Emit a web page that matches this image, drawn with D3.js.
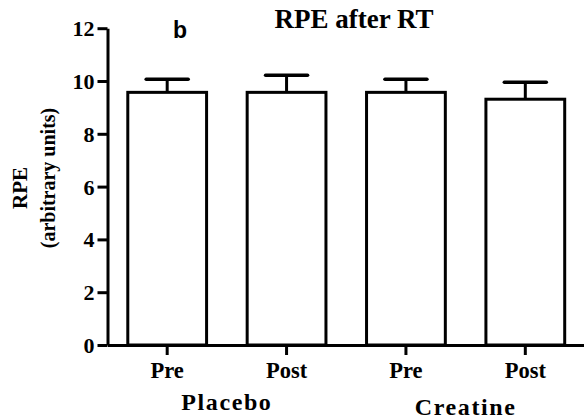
<!DOCTYPE html>
<html><head><meta charset="utf-8">
<script src="https://cdn.jsdelivr.net/npm/d3@7"></script>
<style>body{margin:0;background:#fff;} svg{display:block;}</style>
</head><body>
<svg id="chart" width="584" height="419"></svg>
<script>
const categories = ["Pre", "Post", "Pre", "Post"];
const groups = ["Placebo", "Creatine"];
const values = [9.57, 9.57, 9.57, 9.31];
const errors = [0.5, 0.65, 0.5, 0.64];
const yTicks = [0, 2, 4, 6, 8, 10, 12];

const svg = d3.select("#chart");
const serif = "'Liberation Serif','Times New Roman',serif";
const x = d3.scaleBand().domain(d3.range(categories.length)).range([107.5, 585]).paddingInner(0.34).paddingOuter(0.17);
const y = d3.scaleLinear().domain([0, 12]).range([345, 28.2]);

// bars
const g = svg.append("g");
g.selectAll("rect").data(values).join("rect")
  .attr("x", (d, i) => x(i)).attr("y", d => y(d))
  .attr("width", x.bandwidth()).attr("height", d => y(0) - y(d))
  .attr("fill", "#fff").attr("stroke", "#000").attr("stroke-width", 3);
// error bars
const capW = 42;
g.selectAll("line.err").data(values).join("line").attr("class", "err")
  .attr("x1", (d, i) => x(i) + x.bandwidth() / 2).attr("x2", (d, i) => x(i) + x.bandwidth() / 2)
  .attr("y1", d => y(d)).attr("y2", (d, i) => y(d + errors[i]))
  .attr("stroke", "#000").attr("stroke-width", 3);
g.selectAll("line.cap").data(values).join("line").attr("class", "cap")
  .attr("x1", (d, i) => x(i) + x.bandwidth() / 2 - capW / 2).attr("x2", (d, i) => x(i) + x.bandwidth() / 2 + capW / 2)
  .attr("y1", (d, i) => y(d + errors[i])).attr("y2", (d, i) => y(d + errors[i]))
  .attr("stroke", "#000").attr("stroke-width", 3.5).attr("stroke-linecap", "round");

// y axis
const ya = svg.append("g").attr("transform", "translate(107.5,0)")
  .call(d3.axisLeft(y).tickValues(yTicks).tickSize(10).tickSizeOuter(0).tickPadding(3));
ya.select(".domain").attr("stroke-width", 3);
ya.selectAll(".tick line").attr("stroke-width", 3);
ya.selectAll(".tick text").attr("font-family", serif).attr("font-weight", "bold")
  .attr("font-size", 22).attr("fill", "#000").attr("dy", "0.34em");

// x axis
const xa = svg.append("g").attr("transform", "translate(0,345)")
  .call(d3.axisBottom(x).tickSize(10).tickSizeOuter(0).tickFormat(i => categories[i]));
xa.select(".domain").attr("stroke-width", 3);
xa.selectAll(".tick line").attr("stroke-width", 3);
xa.selectAll(".tick text").attr("font-family", serif).attr("font-weight", "bold")
  .attr("font-size", 22.5).attr("fill", "#000").attr("y", 33).attr("dy", 0);

// group labels
groups.forEach((gname, k) => {
  const cx = (x(2 * k) + x(2 * k + 1) + x.bandwidth()) / 2;
  svg.append("text").attr("x", cx).attr("y", k === 0 ? 410 : 415)
    .attr("text-anchor", "middle").attr("font-family", serif).attr("font-weight", "bold")
    .attr("font-size", 24).attr("letter-spacing", "1.6px").text(gname);
});

// title
svg.append("text").attr("x", 354).attr("y", 28).attr("text-anchor", "middle")
  .attr("font-family", serif).attr("font-weight", "bold").attr("font-size", 27).text("RPE after RT");
svg.append("text").attr("x", 180).attr("y", 38).attr("text-anchor", "middle")
  .attr("font-family", "'Liberation Sans',Arial,sans-serif").attr("font-weight", "bold").attr("font-size", 23).text("b");

// y label
svg.append("text").attr("transform", "translate(27,188) rotate(-90)").attr("text-anchor", "middle")
  .attr("font-family", serif).attr("font-weight", "bold").attr("font-size", 21).text("RPE");
svg.append("text").attr("transform", "translate(55,178) rotate(-90)").attr("text-anchor", "middle")
  .attr("font-family", serif).attr("font-weight", "bold").attr("font-size", 20).text("(arbitrary units)");
</script>
</body></html>
